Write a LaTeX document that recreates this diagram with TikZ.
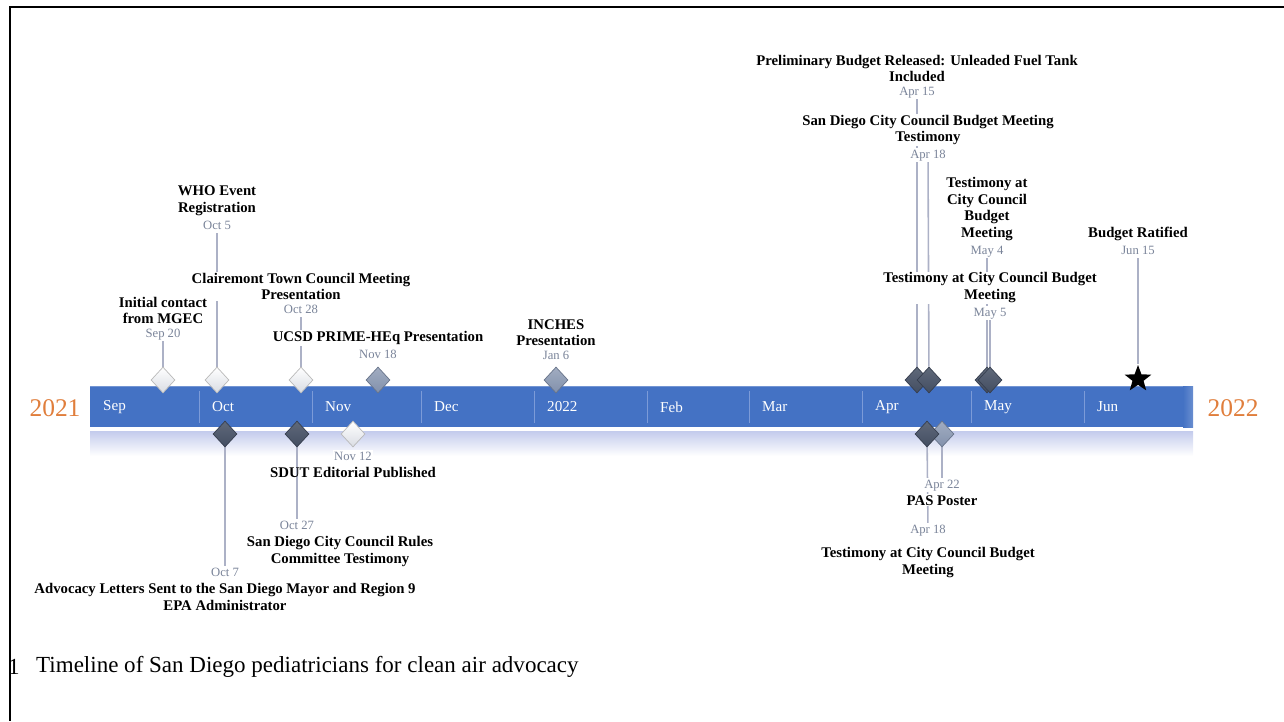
\documentclass[tikz,border=0pt]{standalone}
\usepackage{fontspec}
\setmainfont{Liberation Serif}
\usetikzlibrary{positioning,shapes.geometric,backgrounds}
\definecolor{barblue}{HTML}{4472C4}
\definecolor{sepblue}{HTML}{7C9BD8}
\definecolor{glowblue}{HTML}{C3CBEC}
\definecolor{datetext}{HTML}{7A8499}
\definecolor{stemgray}{HTML}{ACB1C6}
\definecolor{yearorange}{HTML}{E07E3C}
\definecolor{gemdark}{HTML}{434E62}
\definecolor{gemmid}{HTML}{8291AC}
\definecolor{gemlight}{HTML}{D9DCE3}

\begin{document}
\begin{tikzpicture}[x=0.02cm, y=-0.02cm, node distance=1pt]
    \tikzset{event title/.style={align=center, inner sep=0.6pt, fill=white,
        font=\fontsize{8.4}{9.4}\selectfont\bfseries}}
    \tikzset{event date/.style={inner sep=0.6pt, fill=white, text=datetext,
        text height=5pt, text depth=1.5pt, font=\fontsize{7.2}{8}\selectfont}}
    \tikzset{gem/.style={diamond, inner sep=0pt, minimum width=0.48cm,
        minimum height=0.52cm}}
    \tikzset{light gem/.style={gem, draw=gray!55, top color=white,
        bottom color=gemlight}}
    \tikzset{mid gem/.style={gem, draw=gemmid!80!black, top color=gemmid!75!white,
        bottom color=gemmid}}
    \tikzset{dark gem/.style={gem, draw=gemdark!80!black, top color=gemdark!85!white,
        bottom color=gemdark}}
    \tikzset{month label/.style={anchor=west, text=white,
        font=\fontsize{8.6}{10}\selectfont}}
    \tikzset{year label/.style={text=yearorange, font=\fontsize{14.5}{16}\selectfont}}
    \tikzset{stem/.style={stemgray, line width=0.9pt}}

    \useasboundingbox (0,0) rectangle (1284,721);

    \node (oct28date) [event date] at (301,310) {Oct 28};
    \node (oct28) [event title, above=of oct28date] {Clairemont Town Council Meeting\\Presentation};
    \node (sep20date) [event date] at (163,334) {Sep 20};
    \node (sep20) [event title, above=of sep20date] {Initial contact\\from MGEC};
    \node (oct5date) [event date] at (217,226) {Oct 5};
    \node (oct5) [event title, above=of oct5date] {WHO Event\\Registration};
    \node (nov18date) [event date] at (378,355) {Nov 18};
    \node (nov18) [event title, above=of nov18date] {UCSD PRIME-HEq Presentation};
    \node (jan6date) [event date] at (556,356) {Jan 6};
    \node (jan6) [event title, above=of jan6date] {INCHES\\Presentation};
    \node (apr15date) [event date] at (917,92) {Apr 15};
    \node (apr15) [event title, above=of apr15date] {Preliminary Budget Released: Unleaded Fuel Tank\\Included};
    \node (apr18date) [event date] at (928,155) {Apr 18};
    \node (apr18) [event title, above=of apr18date] {San Diego City Council Budget Meeting\\Testimony};
    \node (may4date) [event date] at (987,251) {May 4};
    \node (may4) [event title, above=of may4date] {Testimony at\\City Council\\Budget\\Meeting};
    \node (may5date) [event date] at (990,313) {May 5};
    \node (may5) [event title, above=of may5date] {Testimony at City Council Budget\\Meeting};
    \node (jun15date) [event date] at (1138,251) {Jun 15};
    \node (jun15) [event title, above=of jun15date] {Budget Ratified};

    \node (oct7date) [event date] at (225,573) {Oct 7};
    \node (oct7) [event title, below=of oct7date] {Advocacy Letters Sent to the San Diego Mayor and Region 9\\EPA Administrator};
    \node (oct27date) [event date] at (297,526) {Oct 27};
    \node (oct27) [event title, below=of oct27date, xshift=0.86cm] {San Diego City Council Rules\\Committee Testimony};
    \node (nov12date) [event date] at (353,457) {Nov 12};
    \node (nov12) [event title, below=of nov12date, fill=none] {SDUT Editorial Published};
    \node (apr22date) [event date] at (942,485) {Apr 22};
    \node (apr22) [event title, below=of apr22date] {PAS Poster};
    \node (apr18bdate) [event date] at (928,530) {Apr 18};
    \node (apr18b) [event title, below=0.18cm of apr18bdate] {Testimony at City Council Budget\\Meeting};

    \node (sep20gem) [light gem] at (163,380) {};
    \node (oct5gem) [light gem] at (217,380) {};
    \node (oct28gem) [light gem] at (301,380) {};
    \node (nov18gem) [mid gem] at (378,380) {};
    \node (jan6gem) [mid gem] at (556,380) {};
    \node (apr15gem) [dark gem] at (917,380) {};
    \node (apr18gem) [dark gem] at (929,380) {};
    \node (may4gem) [dark gem] at (987,380) {};
    \node (may5gem) [dark gem] at (990,380) {};
    \node (jun15gem) [star, star points=5, star point ratio=2.4, fill=black,
        inner sep=0pt, minimum size=0.56cm] at (1138,379) {};
    \node (oct7gem) [dark gem] at (225,434) {};
    \node (oct27gem) [dark gem] at (297,434) {};
    \node (nov12gem) [light gem] at (353,434) {};
    \node (apr22gem) [mid gem] at (942,434) {};
    \node (apr18bgem) [dark gem] at (927,434) {};

    \node (sep) [month label] at (97,407) {Sep};
    \node (oct) [month label] at (206,407) {Oct};
    \node (nov) [month label] at (319,407) {Nov};
    \node (dec) [month label] at (428,407) {Dec};
    \node (jan) [month label] at (541,407) {2022};
    \node (feb) [month label] at (654,407) {Feb};
    \node (mar) [month label] at (756,407) {Mar};
    \node (apr) [month label] at (869,407) {Apr};
    \node (may) [month label] at (978,407) {May};
    \node (jun) [month label] at (1091,407) {Jun};
    \node (startyear) [year label] at (55,408) {2021};
    \node (endyear) [year label] at (1233,408) {2022};

    \node (fignum) [font=\fontsize{13.1}{15}\selectfont] at (14,667) {1};
    \node (caption) [anchor=west, font=\fontsize{13.1}{15}\selectfont] at (30,667)
        {Timeline of San Diego pediatricians for clean air advocacy};

    \begin{scope}[on background layer]
        \fill [barblue] (90,386) rectangle (1193,427);
        \draw [barblue!75!white] (90,386.5) -- (1193,386.5);
        \shade [left color=barblue, right color=barblue!80!white] (1183,386) rectangle (1193,427);
        \shade [top color=glowblue, bottom color=white] (90,431) rectangle (1193,456);
        \draw [sepblue] (199,391) -- (199,423);
        \draw [sepblue] (312,391) -- (312,423);
        \draw [sepblue] (421,391) -- (421,423);
        \draw [sepblue] (534,391) -- (534,423);
        \draw [sepblue] (647,391) -- (647,423);
        \draw [sepblue] (749,391) -- (749,423);
        \draw [sepblue] (862,391) -- (862,423);
        \draw [sepblue] (971,391) -- (971,423);
        \draw [sepblue] (1084,391) -- (1084,423);

        \draw [stem] (sep20date) -- (sep20gem);
        \draw [stem] (oct5date) -- (oct5gem);
        \draw [stem] (oct28date) -- (oct28gem);
        \draw [stem] (apr15date) -- (apr15gem);
        \draw [stem] (apr18date) -- (apr18gem);
        \draw [stem] (may4date) -- (may4gem);
        \draw [stem] (may5date) -- (may5gem);
        \draw [stem] (jun15date) -- (jun15gem);
        \draw [stem] (oct7gem) -- (oct7date);
        \draw [stem] (oct27gem) -- (oct27date);
        \draw [stem] (apr22gem) -- (apr22date);
        \draw [stem] (apr18bgem) -- (apr18bdate);
    \end{scope}

    \draw [line width=0.05cm] (1284,7) -- (10,7) -- (10,721);
\end{tikzpicture}
\end{document}
